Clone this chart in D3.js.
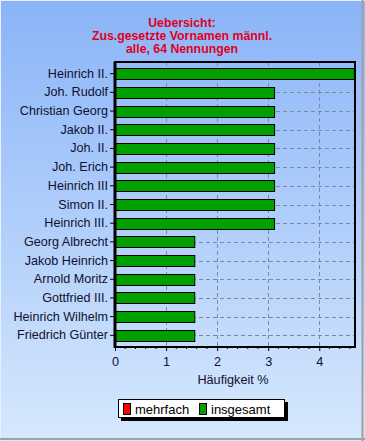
<!DOCTYPE html>
<html><head><meta charset="utf-8">
<script src="https://cdn.jsdelivr.net/npm/d3@7"></script>
<style>html,body{margin:0;padding:0;}svg{display:block;}</style>
</head><body>
<script>
const categories = ["Heinrich II.","Joh. Rudolf","Christian Georg","Jakob II.","Joh. II.","Joh. Erich","Heinrich III","Simon II.","Heinrich III.","Georg Albrecht","Jakob Heinrich","Arnold Moritz","Gottfried III.","Heinrich Wilhelm","Friedrich Günter"];
const insgesamt = [4.6875,3.125,3.125,3.125,3.125,3.125,3.125,3.125,3.125,1.5625,1.5625,1.5625,1.5625,1.5625,1.5625];
const xTicks = [0,1,2,3,4];
const titleLines = ["Uebersicht:","Zus.gesetzte Vornamen männl.","alle, 64 Nennungen"];
const legendItems = [{name:"mehrfach",color:"#ff0000"},{name:"insgesamt",color:"#00a000"}];

const W=365,H=441;
const svg=d3.select("body").append("svg").attr("width",W).attr("height",H);
const defs=svg.append("defs");
const g=defs.append("linearGradient").attr("id","bg").attr("x1",0).attr("y1",0).attr("x2",0).attr("y2",1);
g.append("stop").attr("offset","0%").attr("stop-color","#8ab4f8");
g.append("stop").attr("offset","100%").attr("stop-color","#d6e8fd");
svg.append("rect").attr("width",W).attr("height",H).attr("fill","url(#bg)");
// frame
svg.append("line").attr("x1",0).attr("y1",0.5).attr("x2",W).attr("y2",0.5).attr("stroke","#e8f0ff");
svg.append("line").attr("x1",0.5).attr("y1",0).attr("x2",0.5).attr("y2",H).attr("stroke","#e8f0ff");
svg.append("line").attr("x1",W-2.5).attr("y1",0).attr("x2",W-2.5).attr("y2",H).attr("stroke","#a0a0a0").attr("stroke-width",2);
svg.append("line").attr("x1",0).attr("y1",H-2).attr("x2",W).attr("y2",H-2).attr("stroke","#a0a0a0").attr("stroke-width",2);

const font="Liberation Sans, Arial, sans-serif";
// title
svg.append("g").selectAll("text").data(titleLines).join("text")
  .attr("x",182).attr("y",(d,i)=>27+i*13).attr("text-anchor","middle")
  .attr("font-family",font).attr("font-weight","bold").attr("font-size",12.3)
  .attr("fill","#e00020").text(d=>d);

const L=115,R=355,T=62,B=347;
const x=d3.scaleLinear().domain([0,4.7]).range([L,R]);
const y=d3.scaleBand().domain(categories).range([T,B]).paddingInner(0.41).paddingOuter(0.33);

// grid
const grid=svg.append("g").attr("stroke","#7a8aa0").attr("stroke-dasharray","4,3").attr("stroke-width",1);
grid.selectAll(".v").data(xTicks.slice(1)).join("line")
  .attr("x1",d=>Math.round(x(d))+0.5).attr("x2",d=>Math.round(x(d))+0.5).attr("y1",T).attr("y2",B);
grid.selectAll(".h").data(categories).join("line")
  .attr("y1",d=>Math.round(y(d)+y.bandwidth()/2)+0.5).attr("y2",d=>Math.round(y(d)+y.bandwidth()/2)+0.5).attr("x1",L).attr("x2",R);

// bars
svg.append("g").selectAll("rect").data(categories).join("rect")
  .attr("x",L).attr("y",d=>Math.round(y(d))+0.5)
  .attr("width",(d,i)=>x(insgesamt[i])-L).attr("height",Math.round(y.bandwidth()))
  .attr("fill","#00a000").attr("stroke","#000").attr("stroke-width",1);

// plot frame
svg.append("rect").attr("x",L).attr("y",T).attr("width",R-L).attr("height",B-T)
  .attr("fill","none").attr("stroke","#000").attr("stroke-width",2);
svg.append("line").attr("x1",L).attr("x2",L).attr("y1",T).attr("y2",B+1).attr("stroke","#000").attr("stroke-width",3);

// y axis
const yAxis=svg.append("g").attr("transform",`translate(${L-1},0)`)
  .call(d3.axisLeft(y).tickSize(4).tickPadding(2));
yAxis.select(".domain").remove();
yAxis.selectAll("text").attr("font-family",font).attr("font-size",12.6).attr("fill","#101030");
yAxis.selectAll("line").attr("stroke","#000");

// x axis
const xAxis=svg.append("g").attr("transform",`translate(0,${B})`)
  .call(d3.axisBottom(x).tickValues(xTicks).tickSize(4).tickPadding(6).tickFormat(d3.format("d")));
xAxis.select(".domain").remove();
xAxis.selectAll("text").attr("font-family",font).attr("font-size",12.7).attr("fill","#101030");
const minor=d3.range(0,4.71,0.2).filter(v=>Math.abs(v-Math.round(v))>0.01);
svg.append("g").selectAll("line").data(minor).join("line")
  .attr("x1",d=>x(d)).attr("x2",d=>x(d)).attr("y1",B).attr("y2",B+2).attr("stroke","#000");
svg.append("text").attr("x",233).attr("y",384).attr("text-anchor","middle")
  .attr("font-family",font).attr("font-size",12.7).attr("fill","#101030").text("Häufigkeit %");

// legend
const lg=svg.append("g");
lg.append("rect").attr("x",121).attr("y",402).attr("width",167).attr("height",19).attr("fill","#000");
lg.append("rect").attr("x",118.5).attr("y",399.5).attr("width",166).attr("height",18).attr("fill","#fff").attr("stroke","#000");
const li=lg.selectAll("g").data(legendItems).join("g").attr("transform",(d,i)=>`translate(${123+i*76},403)`);
li.append("rect").attr("x",0.5).attr("y",0.5).attr("width",7).attr("height",11).attr("fill",d=>d.color).attr("stroke","#000");
li.append("text").attr("x",12).attr("y",10.8).attr("font-family",font).attr("font-size",13).attr("fill","#000").text(d=>d.name);
</script>
</body></html>
